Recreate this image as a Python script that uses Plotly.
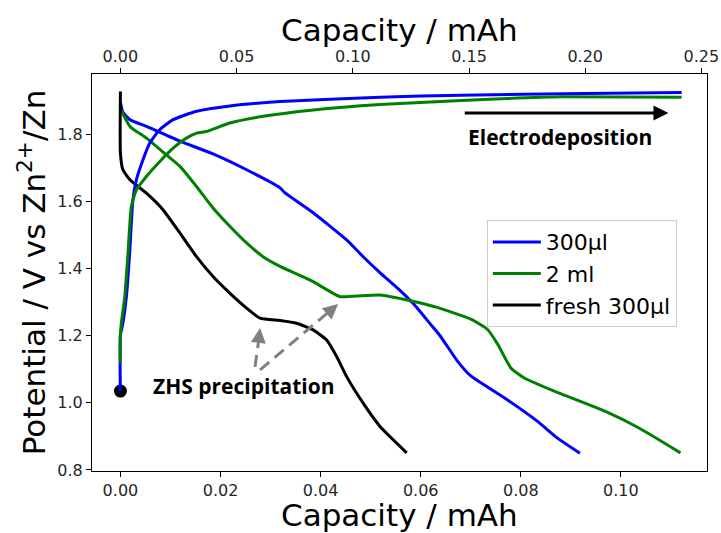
import plotly.graph_objects as go

# ---------------- data ----------------
# discharge curves (bottom axis, capacity / mAh)
blue_dis_x = [0, 0.0005, 0.0019, 0.0052, 0.0119, 0.0185, 0.0252, 0.0319, 0.0329, 0.0385, 0.0452,
              0.0485, 0.0519, 0.0559, 0.0586, 0.0619, 0.0639, 0.0673, 0.0700, 0.0767, 0.0834, 0.0874, 0.0918]
blue_dis_y = [1.895, 1.865, 1.843, 1.823, 1.779, 1.741, 1.694, 1.640, 1.625, 1.566, 1.485,
              1.435, 1.387, 1.334, 1.294, 1.235, 1.199, 1.125, 1.080, 1.015, 0.944, 0.894, 0.850]

green_dis_x = [0, 0.0019, 0.0052, 0.0092, 0.0119, 0.0152, 0.0185, 0.0219, 0.0252, 0.0285, 0.0319,
               0.0385, 0.0419, 0.0439, 0.0472, 0.0519, 0.0579, 0.0633, 0.0700, 0.0733, 0.0754,
               0.0780, 0.0807, 0.0868, 0.0968, 0.1036, 0.1119]
green_dis_y = [1.875, 1.823, 1.788, 1.738, 1.704, 1.644, 1.580, 1.525, 1.476, 1.435, 1.406,
               1.361, 1.331, 1.316, 1.318, 1.321, 1.304, 1.284, 1.249, 1.219, 1.174,
               1.104, 1.074, 1.034, 0.975, 0.925, 0.851]

black_dis_x = [0, 0, 0.0005, 0.0019, 0.0052, 0.0085, 0.0119, 0.0152, 0.0185, 0.0219, 0.0252,
               0.0279, 0.0319, 0.0352, 0.0385, 0.0412, 0.0432, 0.0452, 0.0485, 0.0519, 0.0545, 0.0572]
black_dis_y = [1.927, 1.743, 1.694, 1.664, 1.624, 1.575, 1.505, 1.435, 1.376, 1.326, 1.282,
               1.252, 1.245, 1.237, 1.217, 1.187, 1.138, 1.078, 0.999, 0.929, 0.890, 0.851]

# charge curves (top axis, capacity / mAh)
blue_chg_x = [0, 0, 0.0011, 0.0026, 0.0040, 0.0054, 0.0069, 0.0097, 0.0126, 0.0169, 0.0227,
              0.0328, 0.0471, 0.0687, 0.1118, 0.1467, 0.2000, 0.2415]
blue_chg_y = [1.035, 1.200, 1.237, 1.316, 1.446, 1.604, 1.664, 1.723, 1.773, 1.813, 1.843,
              1.868, 1.884, 1.897, 1.910, 1.916, 1.921, 1.924]

green_chg_x = [0, 0, 0.0004, 0.0019, 0.0033, 0.0047, 0.0069, 0.0112, 0.0169, 0.0227, 0.0284,
               0.0328, 0.0371, 0.0471, 0.0615, 0.0830, 0.1118, 0.1467, 0.1665, 0.1900, 0.2415]
green_chg_y = [1.118, 1.200, 1.237, 1.316, 1.446, 1.584, 1.634, 1.674, 1.718, 1.758, 1.788,
               1.803, 1.808, 1.833, 1.853, 1.872, 1.888, 1.900, 1.906, 1.911, 1.910]

start_point_x = [0]
start_point_y = [1.035]

series_names = ["300µl", "2 ml", "fresh 300µl"]
bottom_ticks = [0.00, 0.02, 0.04, 0.06, 0.08, 0.10]
top_ticks = [0.00, 0.05, 0.10, 0.15, 0.20, 0.25]
y_ticks = [0.8, 1.0, 1.2, 1.4, 1.6, 1.8]

BLUE = "#0000ff"
GREEN = "#008000"
BLACK = "#000000"
LW = 3
SM = 0.5

fig = go.Figure()
fig.add_trace(go.Scatter(x=blue_dis_x, y=blue_dis_y, mode="lines", name=series_names[0],
                         line=dict(color=BLUE, width=LW, shape="spline", smoothing=SM)))
fig.add_trace(go.Scatter(x=green_dis_x, y=green_dis_y, mode="lines", name=series_names[1],
                         line=dict(color=GREEN, width=LW, shape="spline", smoothing=SM)))
fig.add_trace(go.Scatter(x=black_dis_x, y=black_dis_y, mode="lines", name=series_names[2],
                         line=dict(color=BLACK, width=LW, shape="spline", smoothing=SM)))
fig.add_trace(go.Scatter(x=blue_chg_x, y=blue_chg_y, mode="lines", xaxis="x2", showlegend=False,
                         line=dict(color=BLUE, width=LW, shape="spline", smoothing=SM)))
fig.add_trace(go.Scatter(x=green_chg_x, y=green_chg_y, mode="lines", xaxis="x2", showlegend=False,
                         line=dict(color=GREEN, width=LW, shape="spline", smoothing=SM)))
fig.add_trace(go.Scatter(x=start_point_x, y=start_point_y, mode="markers", showlegend=False,
                         marker=dict(color=BLACK, size=13)))

tick_font = dict(family="DejaVu Sans", size=16, color="#262626")
title_font = dict(family="DejaVu Sans", size=31, color="#000000")
axis_common = dict(showgrid=False, zeroline=False, showline=True, linecolor="#000000", linewidth=1,
                   ticks="outside", ticklen=5, tickwidth=1, tickcolor="#000000", tickfont=tick_font,
                   automargin=False)

ann_font = dict(family="Open Sans", size=21, color="#000000")
GRAY = "#808080"

annotations = [
    # axis titles
    dict(x=0.5, y=-0.112, xref="paper", yref="paper", text="Capacity / mAh", showarrow=False,
         font=title_font, xanchor="center", yanchor="middle"),
    dict(x=0.5, y=1.111, xref="paper", yref="paper", text="Capacity / mAh", showarrow=False,
         font=title_font, xanchor="center", yanchor="middle"),
    dict(x=-0.098, y=0.5, xref="paper", yref="paper", text="Potential / V vs Zn<sup>2+</sup>/Zn",
         showarrow=False, font=title_font, textangle=-90, xanchor="center", yanchor="middle"),
    # Electrodeposition arrow
    dict(x=0.1095, y=1.863, ax=0.0685, ay=1.863, xref="x", yref="y", axref="x", ayref="y",
         text="", showarrow=True, arrowhead=2, arrowsize=1, arrowwidth=3, arrowcolor=BLACK),
    dict(x=0.0879, y=1.792, xref="x", yref="y", text="<b>Electrodeposition</b>",
         showarrow=False, font=ann_font),
    dict(x=0.0247, y=1.050, xref="x", yref="y", text="<b>ZHS precipitation</b>",
         showarrow=False, font=ann_font),
    # gray arrowheads
    dict(x=0.0279, y=1.223, xref="x", yref="y", ax=-1, ay=9, text="", showarrow=True,
         arrowhead=2, arrowsize=1, arrowwidth=3, arrowcolor=GRAY),
    dict(x=0.0435, y=1.294, xref="x", yref="y", ax=-7, ay=6, text="", showarrow=True,
         arrowhead=2, arrowsize=1, arrowwidth=3, arrowcolor=GRAY),
]

shapes = [
    dict(type="line", xref="x", yref="y", x0=0.0269, y0=1.107, x1=0.0278, y1=1.205,
         line=dict(color=GRAY, width=3, dash="12px,7px")),
    dict(type="line", xref="x", yref="y", x0=0.0279, y0=1.098, x1=0.0424, y1=1.280,
         line=dict(color=GRAY, width=3, dash="12px,7px")),
]

fig.update_layout(
    width=721, height=533,
    margin=dict(l=92, r=14, t=74, b=62, autoexpand=False),
    paper_bgcolor="white", plot_bgcolor="white",
    xaxis=dict(range=[-0.00568, 0.1172], tickvals=bottom_ticks, tickformat=".2f", **axis_common),
    xaxis2=dict(range=[-0.0122, 0.2524], tickvals=top_ticks, tickformat=".2f", overlaying="x",
                side="top", **axis_common),
    yaxis=dict(range=[0.797, 1.979], tickvals=y_ticks, tickformat=".1f", mirror=True,
               **axis_common),
    legend=dict(x=0.642, y=0.632, xanchor="left", yanchor="top", bgcolor="white",
                bordercolor="#cccccc", borderwidth=1, itemwidth=48, tracegroupgap=0,
                font=dict(family="DejaVu Sans", size=22, color="#000000")),
    annotations=annotations,
    shapes=shapes,
    showlegend=True,
)

fig.write_html("out.html", config={"displayModeBar": False},
               post_script="document.body.style.margin='0';document.body.style.overflow='hidden';")
